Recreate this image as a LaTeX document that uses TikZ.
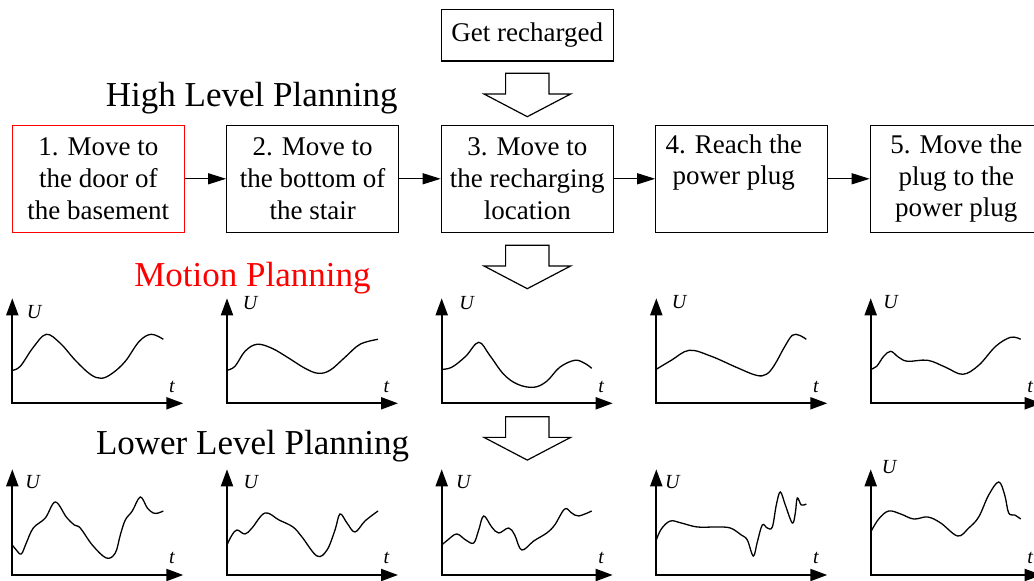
\documentclass[tikz,border=0pt]{standalone}
\usepackage{fontspec}
\setmainfont{Liberation Serif}
\usetikzlibrary{arrows.meta}
\usetikzlibrary{positioning,calc}

\tikzset{
  blk/.style={draw, line width=1.2pt, minimum width=172pt, minimum height=107pt, inner sep=0pt, align=center, font=\fontsize{27}{31.7}\selectfont},
  ttl/.style={anchor=base, font=\fontsize{35}{40}\selectfont},
  lnk/.style={line width=1.2pt, -{Triangle[length=18pt,width=11pt]}},
  axs/.style={line width=2pt, {Triangle[length=17pt,width=12pt]}-{Triangle[length=17pt,width=12pt]}},
  crv/.style={line width=1.3pt, smooth, tension=0.6},
  lbl/.style={inner sep=0pt, font=\fontsize{20}{24}\selectfont\itshape},
}

\begin{document}
\begin{tikzpicture}[x=1pt,y=1pt]
\useasboundingbox (0,0) rectangle (1034,581);

% task boxes
\node[blk] (goal) at (527.3,545.8) [minimum height=51.7pt] {Get recharged};
\node[blk, draw=red] (b1) at (98.3,402.2) {1. Move to\\the door of\\the basement};
\node[blk] (b2) at (312.7,402.2) {2. Move to\\the bottom of\\the stair};
\node[blk] (b3) at (527.3,402.2) {3. Move to\\the recharging\\location};
\node[blk] (b4) at (741.8,402.2) {};
\node[anchor=north, inner sep=0pt, align=center, font=\fontsize{27}{31.7}\selectfont] (b4txt) at ([xshift=-8pt,yshift=-9.6pt]b4.north) {4. Reach the\\power plug};
\node[blk] (b5) at (956.3,402.2) {5. Move the\\plug to the\\power plug};
\foreach \a/\b in {b1/b2,b2/b3,b3/b4,b4/b5}
  \draw[lnk] (\a) -- (\b);

% titles
\node[ttl] (hlp) at (251.7,474.3) {High Level Planning};
\node[ttl, red] (mop) at (252.5,294.3) {Motion Planning};
\node[ttl] (llp) at (252.5,126) {Lower Level Planning};

% hollow arrows
\foreach \y in {507.7,335.7,164.3}
  \draw[line width=1.2pt] (505.6,\y) -- ++(0,-20.7) -- ++(-21.6,0) -- ++(43.3,-22.7) -- ++(43.3,22.7) -- ++(-21.6,0) -- ++(0,20.7) -- cycle;

% axes
\foreach \x/\mx/\my/\lx/\ly [count=\i] in {12.3/21.7/91.6/20.2/93.3, 227/23/100.3/23.8/93.3, 441.7/25/100.7/21.6/93.3, 656.3/22.7/101.6/16/93.3, 870.7/20/101.6/18.3/108.3} {
  \coordinate (m\i) at (\x,177.7);
  \coordinate (l\i) at (\x,6);
  \draw[axs] ([yshift=105pt]m\i) -- (m\i) -- ++(171,0);
  \draw[axs] ([yshift=105.7pt]l\i) -- (l\i) -- ++(171,0);
  \node[lbl] (Um\i) at ([shift={(\mx,\my)}]m\i) {U};
  \node[lbl] (tm\i) at ([shift={(159.5,16.7)}]m\i) {t};
  \node[lbl] (Ul\i) at ([shift={(\lx,\ly)}]l\i) {U};
  \node[lbl] (tl\i) at ([shift={(159.5,16.7)}]l\i) {t};
}

% motion planning curves
\draw[crv, shift={(m1)}] plot coordinates {(0,33) (8,37) (21,56) (34,69) (48,60) (63,43) (78,29) (89,25) (100,30) (113,42) (127,62) (139,69) (151,64)};
\draw[crv, shift={(m2)}] plot coordinates {(0,33) (8,37) (18,52) (30,59) (45,55) (62,45) (78,35) (91,30) (103,33) (118,46) (133,59) (151,64)};
\draw[crv, shift={(m3)}] plot coordinates {(0,34) (10,36) (24,47) (37,61) (48,48) (62,29) (76,19) (92,16) (105,22) (118,36) (133,43) (143,40) (150,35)};
\draw[crv, shift={(m4)}] plot coordinates {(0,34) (15,43) (33,53) (55,47) (80,36) (100,28) (110,29) (118,38) (128,56) (136,68) (143,68) (150,64)};
\draw[crv, shift={(m5)}] plot coordinates {(0,34) (6,37) (13,47) (20,52) (28,46) (37,42) (57,43) (75,36) (92,29) (108,38) (125,57) (140,66) (150,64)};

% lower level curves
\draw[crv, shift={(l1)}] plot coordinates {(0,30) (4,25) (9,21) (14,32) (21,47) (33,57) (43,73) (54,58) (62,50) (68,47) (80,30) (94,17) (103,22) (108,40) (113,55) (120,64) (128,78) (135,67) (141,62) (146,62) (151,64)};
\draw[crv, shift={(l2)}] plot coordinates {(0,30) (5,40) (10,45) (18,41) (25,47) (38,62) (52,55) (66,48) (75,38) (90,19) (100,25) (108,45) (113,61) (120,52) (128,43) (138,54) (151,64)};
\draw[crv, shift={(l3)}] plot coordinates {(0,30) (6,35) (15,41) (24,35) (32,32) (37,45) (42,59) (50,48) (57,42) (67,47) (73,40) (80,25) (92,34) (105,42) (113,50) (123,66) (130,62) (137,59) (150,64)};
\draw[crv, shift={(l4)}] plot coordinates {(0,35) (5,46) (14,54) (25,52) (41,48) (60,48) (74,47) (85,40) (91,35) (97,19) (101,33) (106,50) (111,47) (116,48) (120,70) (124,83) (129,70) (136,52) (139,62) (141,77) (145,70) (150,71)};
\draw[crv, shift={(l5)}] plot coordinates {(0,43) (8,56) (18,64) (30,61) (43,56) (57,58) (70,52) (87,39) (98,47) (108,58) (118,80) (128,93) (134,80) (138,62) (144,60) (150,56)};
\end{tikzpicture}
\end{document}
